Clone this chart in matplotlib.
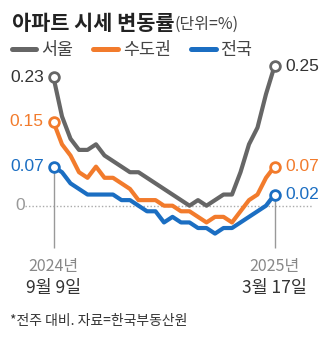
import numpy as np
import matplotlib
matplotlib.use('Agg')
import matplotlib.pyplot as plt
from matplotlib.lines import Line2D

# weekly change (%), 2024-09-09 .. 2025-03-17
seoul = [0.23, 0.16, 0.12, 0.10, 0.10, 0.11, 0.09, 0.08, 0.07, 0.06, 0.06, 0.05, 0.04, 0.03,
         0.02, 0.01, 0.00, 0.01, 0.00, 0.01, 0.02, 0.02, 0.06, 0.11, 0.14, 0.20, 0.25]
capital = [0.15, 0.11, 0.09, 0.06, 0.05, 0.07, 0.05, 0.05, 0.04, 0.03, 0.01, 0.01, 0.01, 0.00,
           0.00, -0.01, -0.01, -0.02, -0.03, -0.02, -0.02, -0.03, -0.01, 0.01, 0.02, 0.05, 0.07]
nation = [0.07, 0.06, 0.04, 0.03, 0.02, 0.02, 0.02, 0.02, 0.01, 0.01, 0.00, -0.01, -0.01, -0.03,
          -0.02, -0.03, -0.03, -0.04, -0.04, -0.05, -0.04, -0.04, -0.03, -0.02, -0.01, 0.00, 0.02]
names = ['서울', '수도권', '전국']
colors = ['#666666', '#F27B2C', '#1B6EC2']
label_colors = ['#333333', '#F27B2C', '#1B6EC2']
start_label = ['2024년', '9월 9일']
end_label = ['2025년', '3월 17일']

KR = ['Noto Sans CJK KR', 'DejaVu Sans']
NUM = ['Liberation Sans Narrow', 'Liberation Sans', 'DejaVu Sans']
W, H = 329, 361

def fx(x):
	return x / W

def fy(y):
	return 1 - y / H

fig = plt.figure(figsize=(W / 100, H / 100), dpi=100)
fig.patch.set_facecolor('white')

# title
fig.text(fx(12), fy(23), '아파트 시세 변동률', family=KR, fontsize=15, fontweight='bold',
	color='#222222', va='center', ha='left')
fig.text(fx(174), fy(24), '(단위=%)', family=KR, fontsize=11.5, color='#444444', va='center', ha='left')

# legend row
leg_x = [(12, 36, 41), (93, 118, 123), (191, 216, 220)]
for (x0, x1, xt), name, c in zip(leg_x, names, colors):
	fig.add_artist(Line2D([fx(x0), fx(x1)], [fy(48.5), fy(48.5)], color=c, lw=3.6,
		solid_capstyle='round', transform=fig.transFigure))
	fig.text(fx(xt), fy(50), name, family=KR, fontsize=12.5, color='#444444', va='center', ha='left')

# chart
ax = fig.add_axes([fx(25), fy(248), (313 - 25) / W, (248 - 60) / H])
ax.set_axis_off()
n = len(seoul)
x = np.arange(n)
step = 8.5  # px per week
ax.set_xlim(-(53.5 - 25) / step, (n - 1) + (313 - 274.5) / step)
ax.set_ylim((205.7 - 248) / 558, (205.7 - 60) / 558)
ymin = ax.get_ylim()[0]

ax.axhline(0, color='#aaaaaa', lw=1, ls=(0, (1, 1.5)), zorder=1)
ax.text(ax.get_xlim()[0], 0, '0', family=NUM, fontsize=12.5, color='#999999', ha='right',
	va='center', transform=ax.transData)

series = [seoul, capital, nation]
ax.vlines([0, n - 1], ymin, [nation[0], nation[-1]], color='#999999', lw=1, clip_on=False, zorder=1)
for s, c, lc in zip(series, colors, label_colors):
	ax.plot(x, s, color=c, lw=3, solid_joinstyle='round', solid_capstyle='round', zorder=3)
	ax.plot([0, n - 1], [s[0], s[-1]], 'o', ms=7, mfc='white', mec=c, mew=2, zorder=4, clip_on=False)
	ax.annotate(f'{s[0]:.2f}', (0, s[0]), xytext=(-7, 0), textcoords='offset points', ha='right',
		va='center', family=NUM, fontsize=12.5, color=lc)
	ax.annotate(f'{s[-1]:.2f}', (n - 1, s[-1]), xytext=(8, 0), textcoords='offset points', ha='left',
		va='center', family=NUM, fontsize=12.5, color=lc)

for xi, lab in [(0, start_label), (n - 1, end_label)]:
	ax.annotate(lab[0], (xi, ymin), xytext=(0, -18 * 0.72), textcoords='offset points', ha='center',
		va='center', family=KR, fontsize=11.5, color='#888888')
	ax.annotate(lab[1], (xi, ymin), xytext=(0, -40 * 0.72), textcoords='offset points', ha='center',
		va='center', family=KR, fontsize=12.5, color='#333333')

fig.text(fx(10), fy(321), '*전주 대비. 자료=한국부동산원', family=KR, fontsize=10, color='#333333',
	va='center', ha='left')

fig.savefig('out.png', dpi=100)
